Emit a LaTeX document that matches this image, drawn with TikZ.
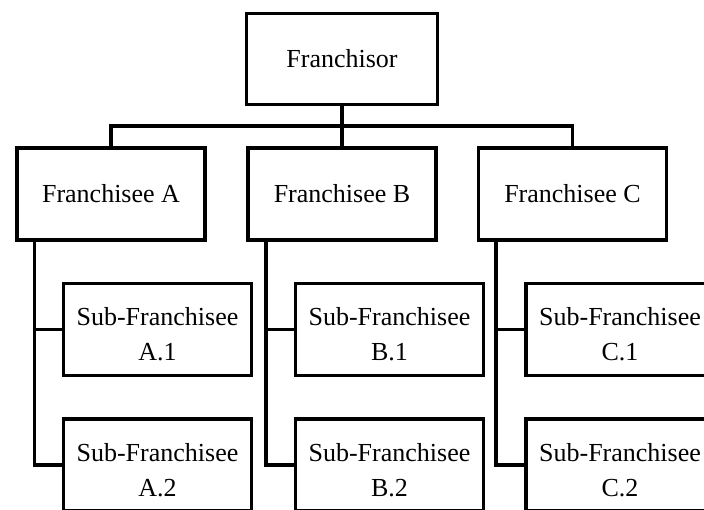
\documentclass[tikz,border=0pt]{standalone}
\usepackage{fontspec}
\setmainfont{Liberation Serif}
\newcommand\twolinetext[2]{\raisebox{-7pt}[\height][\depth]{\begin{tabular}{@{}c@{}}#1\\#2\end{tabular}}}
\begin{document}
\begin{tikzpicture}[x=1pt,y=-1pt,
  box/.style={draw=black, line width=3.2pt, fill=white, minimum width=188pt, minimum height=92pt,
    inner sep=0pt, align=center, font=\fontsize{26}{35}\selectfont},
  conn/.style={draw=black, line width=3.2pt}]
\fill[white] (0,0) rectangle (704,510);
\useasboundingbox (0,0) rectangle (704,510);
\clip (0,0) rectangle (704,510);
% top
\node[box, minimum width=191pt, minimum height=91pt] (fr) at (342,59) {Franchisor};
% franchisees
\node[box] (fa) at (111,194) {Franchisee A};
\node[box] (fb) at (342,194) {Franchisee B};
\node[box] (fc) at (572.5,194) {Franchisee C};
% sub-franchisees
\node[box] (a1) at (157.5,329.5) {\twolinetext{Sub-Franchisee}{A.1}};
\node[box] (a2) at (157.5,465) {\twolinetext{Sub-Franchisee}{A.2}};
\node[box] (b1) at (389.5,329.5) {\twolinetext{Sub-Franchisee}{B.1}};
\node[box] (b2) at (389.5,465) {\twolinetext{Sub-Franchisee}{B.2}};
\node[box] (c1) at (620,329.5) {\twolinetext{Sub-Franchisee}{C.1}};
\node[box] (c2) at (620,465) {\twolinetext{Sub-Franchisee}{C.2}};
% bar coordinates
\coordinate (bar) at (342,126);
\coordinate (pa) at ([xshift=19pt]fa.south west);
\coordinate (pb) at ([xshift=19.5pt]fb.south west);
\coordinate (pc) at ([xshift=19pt]fc.south west);
% connectors top level
\draw[conn] (fr.south) -- (fb.north);
\draw[conn] (fa.north) |- (bar) -| (fc.north);
% connectors to subs
\draw[conn] (a1.west) -| (pa);
\draw[conn] (a2.west) -| (pa);
\draw[conn] (b1.west) -| (pb);
\draw[conn] (b2.west) -| (pb);
\draw[conn] (c1.west) -| (pc);
\draw[conn] (c2.west) -| (pc);
\end{tikzpicture}
\end{document}
